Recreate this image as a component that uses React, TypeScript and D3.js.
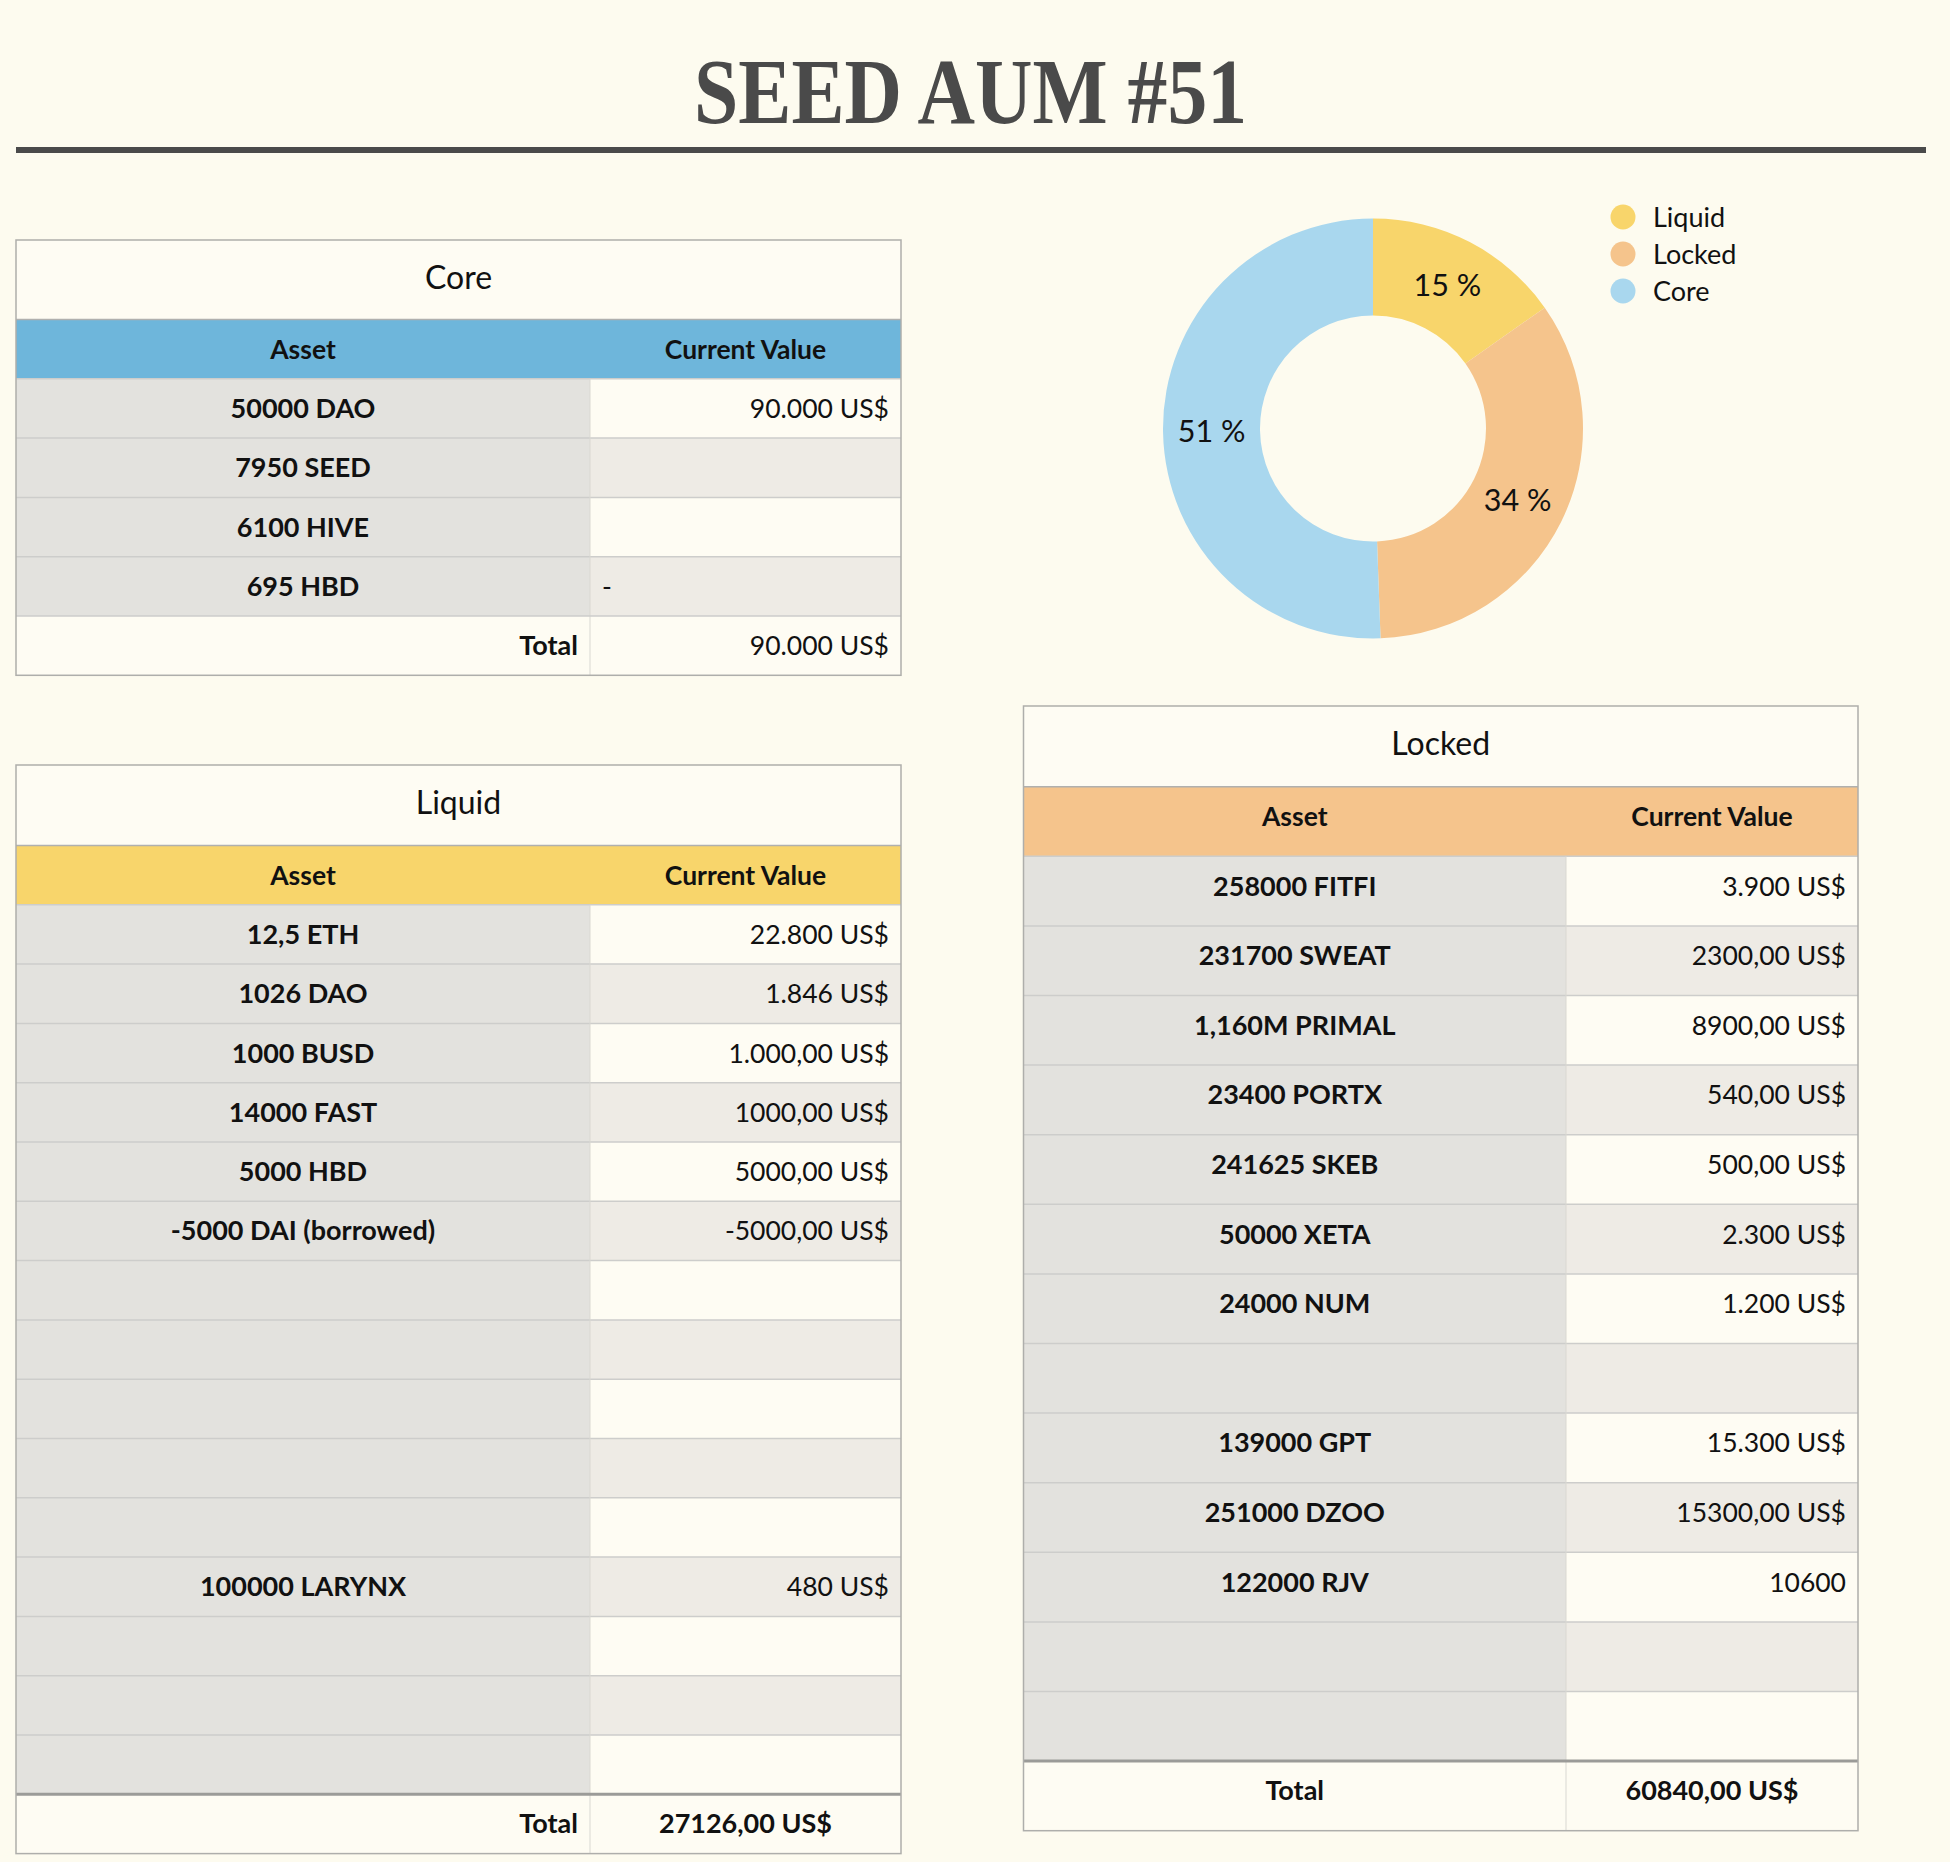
import React from "react";
import * as d3 from "d3";

const TITLE = "SEED AUM #51";

const pieCategories = ["Liquid", "Locked", "Core"];
const pieValues = [27126, 60840, 90000];
const pieColors = ["#f8d56b", "#f5c48c", "#a9d7ee"];

const columnHeaders = ["Asset", "Current Value"];

const coreAssets = ["50000 DAO", "7950 SEED", "6100 HIVE", "695 HBD"];
const coreValues = ["90.000 US$", "", "", "-"];
const coreTotal = "90.000 US$";

const liquidAssets = [
  "12,5 ETH", "1026 DAO", "1000 BUSD", "14000 FAST", "5000 HBD", "-5000 DAI (borrowed)",
  "", "", "", "", "", "100000 LARYNX", "", "", "",
];
const liquidValues = [
  "22.800 US$", "1.846 US$", "1.000,00 US$", "1000,00 US$", "5000,00 US$", "-5000,00 US$",
  "", "", "", "", "", "480 US$", "", "", "",
];
const liquidTotal = "27126,00 US$";

const lockedAssets = [
  "258000 FITFI", "231700 SWEAT", "1,160M PRIMAL", "23400 PORTX", "241625 SKEB",
  "50000 XETA", "24000 NUM", "", "139000 GPT", "251000 DZOO", "122000 RJV", "", "",
];
const lockedValues = [
  "3.900 US$", "2300,00 US$", "8900,00 US$", "540,00 US$", "500,00 US$",
  "2.300 US$", "1.200 US$", "", "15.300 US$", "15300,00 US$", "10600", "", "",
];
const lockedTotal = "60840,00 US$";

const FONT = "Lato, 'Noto Sans', sans-serif";
const BG = "#fdfbef";
const CELL_LIGHT = "#fefcf3";
const CELL_DARK = "#eeebe5";
const CELL_ASSET = "#e3e2de";

type TableProps = {
  x: number; y: number; w: number; split: number; titleH: number; rowH: number;
  title: string; headerColor: string; assets: string[]; values: string[];
  total: string; mode: "core" | "liquid" | "locked"; textDy: number;
};

function Table(p: TableProps) {
  const n = p.assets.length;
  const rows = d3.scaleLinear().domain([0, 1]).range([p.y + p.titleH, p.y + p.titleH + p.rowH]);
  const xL = p.x, xS = p.x + p.split, xR = p.x + p.w;
  const yEnd = rows(n + 2);
  const base = (i: number) => rows(i) + p.rowH / 2 + p.textDy;
  const fs = 27;
  return (
    <g fontFamily={FONT}>
      <rect x={xL} y={p.y} width={p.w} height={yEnd - p.y} fill={CELL_LIGHT} />
      <text x={(xL + xS + (xR - xS)) / 2 + (xL) / 2 - xL / 2} y={p.y + p.titleH / 2 + 9} textAnchor="middle" fontSize={32} fill="#111">{p.title}</text>
      <rect x={xL} y={rows(0)} width={p.w} height={p.rowH} fill={p.headerColor} />
      {columnHeaders.map((h, j) => (
        <text key={h} x={j === 0 ? (xL + xS) / 2 : (xS + xR) / 2} y={base(0)} textAnchor="middle" fontSize={26.5} fontWeight={700} fill="#111">{h}</text>
      ))}
      {p.assets.map((a, i) => {
        const v = p.values[i];
        const top = rows(i + 1);
        return (
          <g key={i}>
            <rect x={xL} y={top} width={p.split} height={p.rowH} fill={CELL_ASSET} />
            <rect x={xS} y={top} width={p.w - p.split} height={p.rowH} fill={i % 2 === 0 ? CELL_LIGHT : CELL_DARK} />
            <line x1={xL} x2={xR} y1={top} y2={top} stroke="#cdcdcb" strokeWidth={1.5} />
            {a && <text x={(xL + xS) / 2} y={base(i + 1)} textAnchor="middle" fontSize={fs} fontWeight={700} fill="#111">{a}</text>}
            {v && (v === "-" ? (
              <text x={xS + 12} y={base(i + 1)} textAnchor="start" fontSize={26.5} fill="#111">{v}</text>
            ) : (
              <text x={xR - 12} y={base(i + 1)} textAnchor="end" fontSize={26.5} fill="#111">{v}</text>
            ))}
          </g>
        );
      })}
      <line x1={xS} x2={xS} y1={rows(1)} y2={yEnd} stroke="#d9d8d2" strokeWidth={1} />
      {p.mode === "core" ? (
        <line x1={xL} x2={xR} y1={rows(n + 1)} y2={rows(n + 1)} stroke="#cdcdcb" strokeWidth={1.5} />
      ) : (
        <line x1={xL} x2={xR} y1={rows(n + 1)} y2={rows(n + 1)} stroke="#9b9b98" strokeWidth={3} />
      )}
      {p.mode === "locked" ? (
        <text x={(xL + xS) / 2} y={base(n + 1)} textAnchor="middle" fontSize={fs} fontWeight={700} fill="#111">Total</text>
      ) : (
        <text x={xS - 12} y={base(n + 1)} textAnchor="end" fontSize={fs} fontWeight={700} fill="#111">Total</text>
      )}
      {p.mode === "core" ? (
        <text x={xR - 12} y={base(n + 1)} textAnchor="end" fontSize={26.5} fill="#111">{p.total}</text>
      ) : (
        <text x={(xS + xR) / 2} y={base(n + 1)} textAnchor="middle" fontSize={fs} fontWeight={700} fill="#111">{p.total}</text>
      )}
      <line x1={xL} x2={xR} y1={rows(0)} y2={rows(0)} stroke="#b0b0ae" strokeWidth={1.5} />
      <rect x={xL} y={p.y} width={p.w} height={yEnd - p.y} fill="none" stroke="#aeaeab" strokeWidth={1.5} />
    </g>
  );
}

function Donut() {
  const cx = 1373, cy = 428.5, R = 210, r = 113;
  const total = d3.sum(pieValues);
  const pie = d3.pie<number>().sort(null).value((d) => d);
  const arcs = pie(pieValues);
  const arc = d3.arc<d3.PieArcDatum<number>>().innerRadius(r).outerRadius(R);
  const legendY = d3.scaleLinear().domain([0, 1]).range([217, 254]);
  return (
    <g fontFamily={FONT}>
      <g transform={`translate(${cx},${cy})`}>
        {arcs.map((a, i) => (
          <path key={i} d={arc(a) || ""} fill={pieColors[i]} />
        ))}
        {arcs.map((a, i) => {
          const [lx, ly] = arc.centroid(a);
          return (
            <text key={"l" + i} x={lx} y={ly + 11} textAnchor="middle" fontSize={30.5} fill="#111">
              {Math.round((pieValues[i] / total) * 100) + " %"}
            </text>
          );
        })}
      </g>
      {pieCategories.map((c, i) => (
        <g key={c}>
          <circle cx={1623} cy={legendY(i)} r={12.5} fill={pieColors[i]} />
          <text x={1653} y={legendY(i) + 9.5} fontSize={27} fill="#111">{c}</text>
        </g>
      ))}
    </g>
  );
}

export default function App() {
  return (
    <div style={{ position: "absolute", left: 0, top: 0 }}>
      <svg width={1950} height={1862} style={{ display: "block" }}>
        <rect x={0} y={0} width={1950} height={1862} fill={BG} />
        <text x={970.5} y={123} textAnchor="middle" fontFamily="'Liberation Serif', serif" fontWeight={700}
          fontSize={94} fill="#4a4a4a" textLength={553} lengthAdjust="spacingAndGlyphs">{TITLE}</text>
        <rect x={16} y={147} width={1910} height={6} fill="#4a4a4a" />
        <Table x={16} y={240} w={885} split={574} titleH={79.5} rowH={59.3} title="Core" headerColor="#6eb6db"
          assets={coreAssets} values={coreValues} total={coreTotal} mode="core" textDy={9.5} />
        <Table x={16} y={765} w={885} split={574} titleH={80.5} rowH={59.3} title="Liquid" headerColor="#f8d56b"
          assets={liquidAssets} values={liquidValues} total={liquidTotal} mode="liquid" textDy={9.5} />
        <Table x={1023.5} y={706} w={834.5} split={542.5} titleH={80.7} rowH={69.6} title="Locked" headerColor="#f5c48c"
          assets={lockedAssets} values={lockedValues} total={lockedTotal} mode="locked" textDy={4.5} />
        <Donut />
      </svg>
    </div>
  );
}
